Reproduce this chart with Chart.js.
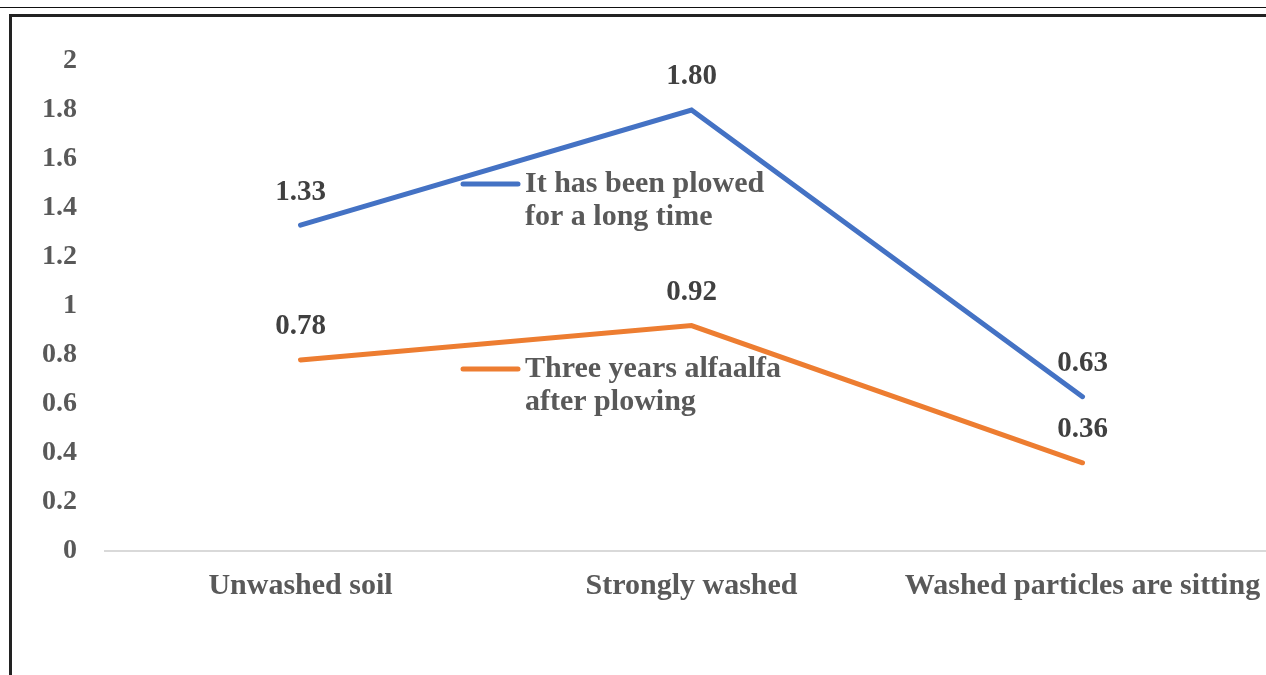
<!DOCTYPE html>
<html>
<head>
<meta charset="utf-8">
<script src="https://cdn.jsdelivr.net/npm/chart.js@4"></script>
<style>
  html, body { margin: 0; padding: 0; background: #fff; overflow: hidden; width: 1266px; height: 675px; }
  #wrap { position: absolute; left: 0; top: 0; width: 1282px; height: 675px; }
  .rule { position: absolute; background: #111; z-index: 2; }
</style>
</head>
<body>
<div class="rule" style="left:0;top:7px;width:1266px;height:1px;"></div>
<div class="rule" style="left:9px;top:14px;width:1257px;height:3px;background:#222;"></div>
<div class="rule" style="left:9px;top:14px;width:3px;height:661px;background:#222;"></div>
<div id="wrap"><canvas id="chart" width="1282" height="675"></canvas></div>
<script>
// values
const categories = ['Unwashed soil', 'Strongly washed', 'Washed particles are sitting'];
const plowedLong = [1.33, 1.80, 0.63];
const alfalfa = [0.78, 0.92, 0.36];
const seriesNames = ['It has been plowed for a long time', 'Three years alfaalfa after plowing'];
const seriesColors = ['#4472c4', '#ed7d31'];

const serif = "'Liberation Serif', 'Times New Roman', serif";

// value labels above each point
const valueLabels = {
    id: 'valueLabels',
    afterDatasetsDraw(chart) {
        let ctx = chart.ctx;
        ctx.save();
        ctx.font = `bold 29px ${serif}`;
        ctx.fillStyle = '#404040';
        ctx.textAlign = 'center';
        ctx.textBaseline = 'middle';
        chart.data.datasets.forEach((ds, i) => {
            let meta = chart.getDatasetMeta(i);
            meta.data.forEach((pt, j) => {
                ctx.fillText(ds.data[j].toFixed(2), pt.x, pt.y - 33);
            });
        });
        ctx.restore();
    }
};

// legend sits inside the plot, text wrapped on two lines
const innerLegend = {
    id: 'innerLegend',
    afterDraw(chart) {
        let ctx = chart.ctx;
        let spots = [{x: 460, y: 184}, {x: 460, y: 369}];
        ctx.save();
        ctx.font = `bold 30px ${serif}`;
        ctx.textBaseline = 'middle';
        ctx.textAlign = 'left';
        chart.data.datasets.forEach((ds, i) => {
            let s = spots[i];
            ctx.strokeStyle = ds.borderColor;
            ctx.lineWidth = 5;
            ctx.lineCap = 'round';
            ctx.beginPath();
            ctx.moveTo(s.x + 3, s.y);
            ctx.lineTo(s.x + 58, s.y);
            ctx.stroke();
            ctx.fillStyle = '#595959';
            let words = ds.label.split(' ');
            let lines = [];
            let cur = '';
            for (let w of words) {
                let test = cur ? cur + ' ' + w : w;
                if (ctx.measureText(test).width > 270 && cur) {
                    lines.push(cur);
                    cur = w;
                } else cur = test;
            }
            lines.push(cur);
            lines.forEach((ln, k) => ctx.fillText(ln, s.x + 65, s.y + k * 33));
        });
        ctx.restore();
    }
};

let ctx = document.getElementById('chart').getContext('2d');
new Chart(ctx, {
    type: 'line',
    data: {
        labels: categories,
        datasets: [plowedLong, alfalfa].map((d, i) => ({
            label: seriesNames[i],
            data: d,
            borderColor: seriesColors[i],
            backgroundColor: seriesColors[i],
            borderWidth: 5,
            borderCapStyle: 'round',
            pointRadius: 0,
            tension: 0,
            fill: false
        }))
    },
    options: {
        responsive: false,
        animation: false,
        layout: { padding: { top: 61, left: 0, right: 4, bottom: 0 } },
        plugins: { legend: { display: false }, tooltip: { enabled: false } },
        scales: {
            x: {
                offset: true,
                grid: { display: false, drawTicks: false },
                border: { display: true, color: '#d9d9d9', width: 2 },
                ticks: { color: '#595959', font: { family: serif, size: 30, weight: 'bold' }, padding: 17, maxRotation: 0 },
                afterFit(s) { s.height = 124; }
            },
            y: {
                min: 0,
                max: 2,
                grid: { display: false, drawTicks: false },
                border: { display: false },
                ticks: {
                    stepSize: 0.2,
                    color: '#595959',
                    font: { family: serif, size: 28, weight: 'bold' },
                    padding: 28,
                    callback: v => String(+v.toFixed(1))
                },
                afterFit(s) { s.width = 105; }
            }
        }
    },
    plugins: [valueLabels, innerLegend]
});
</script>
</body>
</html>
